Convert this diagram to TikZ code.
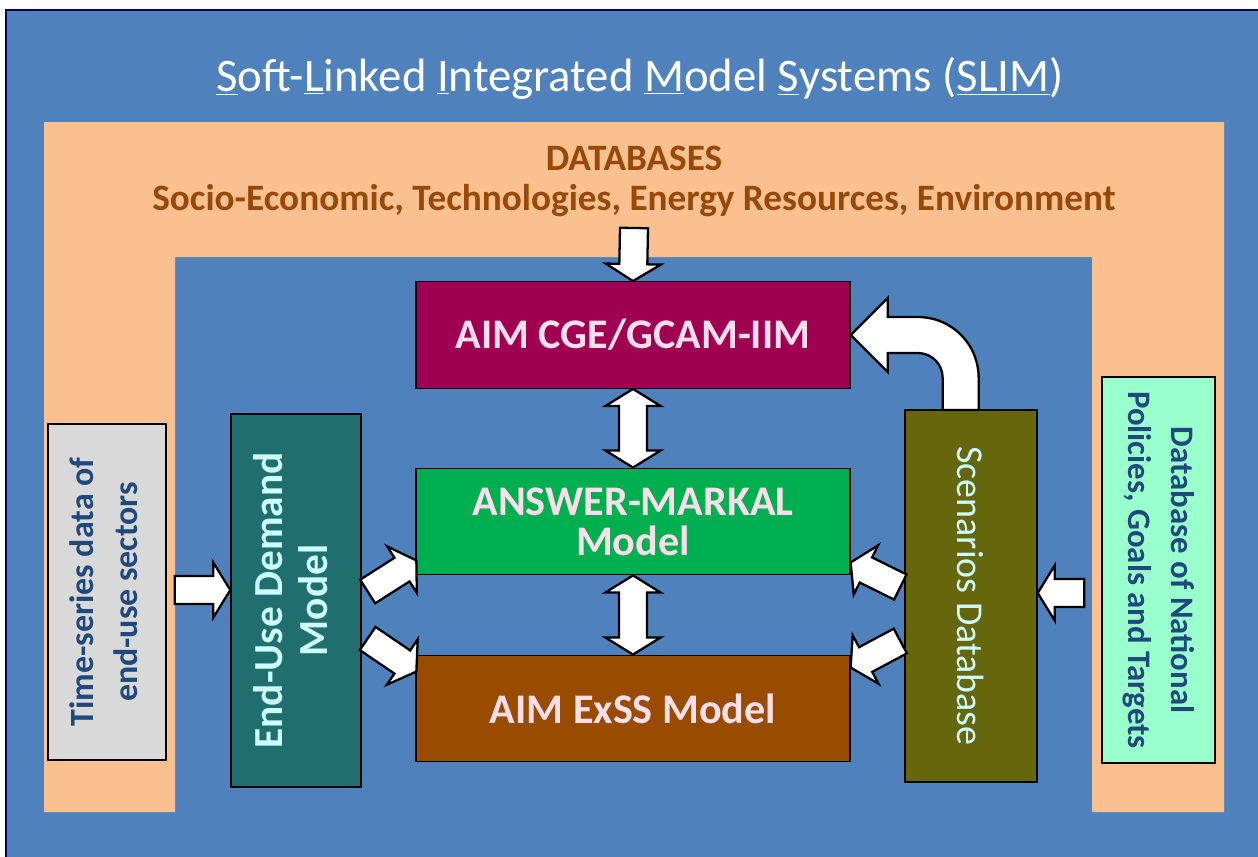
\documentclass[tikz,border=0pt]{standalone}
\usepackage{fontspec}
\setmainfont{Carlito}
\usetikzlibrary{calc}

\definecolor{slimblue}{RGB}{79,129,189}
\definecolor{peach}{RGB}{250,192,144}
\definecolor{dbbrown}{RGB}{152,72,7}
\definecolor{cgefill}{RGB}{160,0,82}
\definecolor{markalfill}{RGB}{0,176,80}
\definecolor{exssfill}{RGB}{153,76,0}
\definecolor{eudfill}{RGB}{33,110,110}
\definecolor{scenfill}{RGB}{102,102,12}
\definecolor{tsfill}{RGB}{217,217,217}
\definecolor{natfill}{RGB}{153,255,204}
\definecolor{darktext}{RGB}{31,73,125}
\definecolor{pinktext}{RGB}{255,222,236}
\definecolor{cyantext}{RGB}{204,255,255}

% sizes of the block arrows
\def\headlen{0.34cm}
\def\shafthw{0.28cm}
\def\headhw{0.55cm}

% block arrow from #1 to #2
\newcommand{\fatarrow}[2]{%
  \coordinate (fa-h) at ($#2!\headlen!#1$);
  \draw[bigarrow] ($#1!\shafthw!90:#2$) -- ($(fa-h)!\shafthw!90:#2$)
    -- ($(fa-h)!\headhw!90:#2$) -- #2 -- ($(fa-h)!\headhw!-90:#2$)
    -- ($(fa-h)!\shafthw!-90:#2$) -- ($#1!\shafthw!-90:#2$) -- cycle;}
% block arrow with heads at both ends
\newcommand{\dblfatarrow}[2]{%
  \coordinate (fa-a) at ($#1!\headlen!#2$);
  \coordinate (fa-b) at ($#2!\headlen!#1$);
  \draw[bigarrow] #1 -- ($(fa-a)!\headhw!90:#2$) -- ($(fa-a)!\shafthw!90:#2$)
    -- ($(fa-b)!\shafthw!90:#2$) -- ($(fa-b)!\headhw!90:#2$) -- #2
    -- ($(fa-b)!\headhw!-90:#2$) -- ($(fa-b)!\shafthw!-90:#2$)
    -- ($(fa-a)!\shafthw!-90:#2$) -- ($(fa-a)!\headhw!-90:#2$) -- cycle;}

\begin{document}
\begin{tikzpicture}[x=0.02cm, y=-0.02cm,
% common options for boxes:
box/.style = {draw=black, line width=0.8pt, align=center, inner sep=0},
modelbox/.style = {box, minimum width=8.68cm, minimum height=2.13cm, text=pinktext,
            font=\fontsize{24}{22.7}\selectfont\bfseries},
% common options for the white arrows:
bigarrow/.style = {draw=black, fill=white, line width=1.3pt, line join=miter}]
\useasboundingbox (0,0) rectangle (1258,856);
\fill[white] (0,0) rectangle (1258,856);
\draw[fill=slimblue, draw=black!70!blue, line width=1pt] (6,10) rectangle (1266,866);
\fill[peach] (44,122) -- (1224,122) -- (1224,812) -- (1092,812) -- (1092,257)
  -- (175,257) -- (175,812) -- (44,812) -- cycle;

\node[text=white, font=\fontsize{26.6}{30}\selectfont] (title) at (640,78)
  {\underline{S}oft-\underline{L}inked \underline{I}ntegrated \underline{M}odel \underline{S}ystems (\underline{SLIM})};
\node[align=center, text=dbbrown, font=\fontsize{21.2}{22.7}\selectfont\bfseries] (dbs) at (634,181)
  {DATABASES\\Socio-Economic, Technologies, Energy Resources, Environment};

\node[modelbox, fill=cgefill] (cge) at (633,335) {AIM CGE/GCAM-IIM};
\node[modelbox, fill=markalfill] (markal) at (633,521.5) {ANSWER-MARKAL\\Model};
\node[modelbox, fill=exssfill] (exss) at (633,708.5) {AIM ExSS Model};

\node[box, fill=eudfill, text=cyantext, minimum width=2.6cm, minimum height=7.46cm,
  font=\fontsize{23.5}{26}\selectfont\bfseries] (eud) at (296,600.5)
  {\rotatebox{90}{\begin{tabular}{@{}c@{}}End-Use Demand\\Model\end{tabular}}};
\node[box, fill=tsfill, text=darktext, minimum width=2.36cm, minimum height=6.72cm,
  font=\fontsize{19.3}{25}\selectfont\bfseries] (ts) at (107,592)
  {\rotatebox{90}{\begin{tabular}{@{}c@{}}Time-series data of\\end-use sectors\end{tabular}}};
\node[box, fill=scenfill, text=cyantext, minimum width=2.64cm, minimum height=7.44cm,
  font=\fontsize{21.6}{23}\selectfont] (scen) at (971,596)
  {\rotatebox{-90}{Scenarios Database}};
\node[box, fill=natfill, text=darktext, minimum width=2.26cm, minimum height=7.72cm,
  font=\fontsize{18.7}{24.4}\selectfont\bfseries] (nat) at (1158.5,570)
  {\rotatebox{-90}{\begin{tabular}{@{}c@{}}Database of National\\Policies, Goals and Targets\end{tabular}}};

% free ends of the arrows
\coordinate (dbfoot) at (634,228);
\coordinate (tsout) at ($(ts.east)+(8,-2)$);
\coordinate (eudin) at (tsout -| eud.west);
\coordinate (eud-a) at ($(eud.east)+(6,-9)$);
\coordinate (markal-a) at ($(markal.south west)+(1,-15)$);
\coordinate (eud-b) at ($(eud.east)+(6,38)$);
\coordinate (exss-a) at ($(exss.north west)+(1,17)$);
\coordinate (scen-a) at ($(scen.west)+(-4,-9)$);
\coordinate (markal-b) at ($(markal.south east)+(0,-13)$);
\coordinate (scen-b) at ($(scen.west)+(-4,45)$);
\coordinate (exss-b) at ($(exss.north east)+(0,13)$);
\coordinate (natout) at ($(nat.west)+(-17,23)$);
\coordinate (scenin) at (natout -| scen.east);

\fatarrow{(dbfoot)}{(cge.north)}
\dblfatarrow{(cge.south)}{(markal.north)}
\dblfatarrow{(markal.south)}{(exss.north)}
\fatarrow{(tsout)}{(eudin)}
\fatarrow{(eud-a)}{(markal-a)}
\fatarrow{(eud-b)}{(exss-a)}
\fatarrow{(scen-a)}{(markal-b)}
\fatarrow{(scen-b)}{(exss-b)}
\fatarrow{(natout)}{(scenin)}

% bent arrow from the scenarios up to the top model
\begin{scope}[shift={(cge.east)}]
\draw[bigarrow] (128,75) -- (128,43) .. controls (128,9) and (101,-18) .. (67,-18)
  -- (37,-18) -- (37,-37) -- (0,0) -- (37,37) -- (37,18) -- (67,18)
  .. controls (81,18) and (92,29) .. (92,43) -- (92,75) -- cycle;
\end{scope}
\end{tikzpicture}
\end{document}
